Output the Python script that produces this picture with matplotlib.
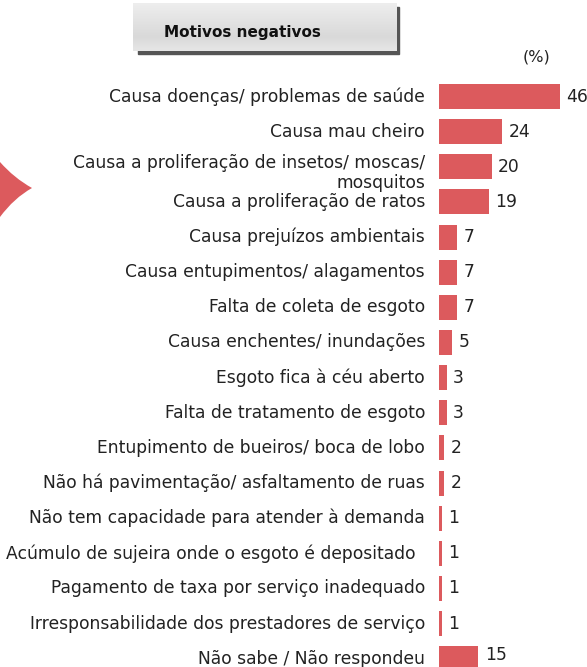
import numpy as np
import matplotlib
matplotlib.use('Agg')
import matplotlib.pyplot as plt
from matplotlib.patches import Rectangle, PathPatch
from matplotlib.path import Path
from matplotlib.colors import LinearSegmentedColormap

labels = [
    'Causa doenças/ problemas de saúde',
    'Causa mau cheiro',
    'Causa a proliferação de insetos/ moscas/\nmosquitos',
    'Causa a proliferação de ratos',
    'Causa prejuízos ambientais',
    'Causa entupimentos/ alagamentos',
    'Falta de coleta de esgoto',
    'Causa enchentes/ inundações',
    'Esgoto fica à céu aberto',
    'Falta de tratamento de esgoto',
    'Entupimento de bueiros/ boca de lobo',
    'Não há pavimentação/ asfaltamento de ruas',
    'Não tem capacidade para atender à demanda',
    'Acúmulo de sujeira onde o esgoto é depositado',
    'Pagamento de taxa por serviço inadequado',
    'Irresponsabilidade dos prestadores de serviço',
    'Não sabe / Não respondeu',
]
values = [46, 24, 20, 19, 7, 7, 7, 5, 3, 3, 2, 2, 1, 1, 1, 1, 15]

red = '#dc5a5d'
txt = '#222222'
W, H = 587, 667
plt.rcParams['font.family'] = ['DejaVu Sans']

fig = plt.figure(figsize=(W / 100, H / 100), dpi=100)

# bar axes
ax = fig.add_axes([439 / W, 0, 148 / W, 1])
ax.set_xlim(0, 148 / 2.63)
ax.set_ylim((H - 96.5) / 35.14, -96.5 / 35.14)
ax.axis('off')

y = np.arange(len(values))
ax.barh(y, values, height=0.71, color=red)
tr = ax.get_yaxis_transform()
for i, (lab, v) in enumerate(zip(labels, values)):
    dx = -14 / 148
    dy = 0
    if lab.startswith('Acúmulo'):
        dx = -24 / 148
    if '\n' in lab:
        dy = 0.18
    ax.text(dx, i + dy, lab, transform=tr, ha='right', va='center', fontsize=12.3,
            color=txt, linespacing=1.1, clip_on=False)
    dv = 2.5 if i == len(values) - 1 else 0
    ax.annotate(str(v), (v, i), xytext=(4.5, dv), textcoords='offset points',
                ha='left', va='center', fontsize=12.3, color=txt,
                annotation_clip=False)

fig.text(537 / W, 1 - 57 / H, '(%)', ha='center', va='center',
         fontsize=11.5, color=txt)

# title box with shadow
fig.patches.append(Rectangle((138 / W, 1 - 54 / H), (399 - 138) / W, 47 / H,
                             transform=fig.transFigure, color='#555555',
                             zorder=0))
tax = fig.add_axes([133 / W, 1 - 51 / H, (396 - 133) / W, 48 / H], zorder=1)
cmap = LinearSegmentedColormap.from_list(
    'g', [(0, '#eeeeee'), (0.7, '#d9d9d9'), (1, '#e6e6e6')])
tax.imshow(np.linspace(0, 1, 100).reshape(-1, 1), aspect='auto', cmap=cmap,
           extent=(0, 1, 0, 1), origin='upper')
tax.axis('off')
fig.text(164 / W, 1 - 33 / H, 'Motivos negativos', ha='left', va='center',
         fontsize=11, fontweight='bold', color='#111111', zorder=3)

# red arrow on the left edge
verts = [(0, 162), (14, 178), (32, 188), (14, 198), (0, 217), (0, 162)]
verts = [(x / W, 1 - yy / H) for x, yy in verts]
codes = [Path.MOVETO, Path.CURVE3, Path.CURVE3, Path.CURVE3, Path.CURVE3,
         Path.CLOSEPOLY]
fig.patches.append(PathPatch(Path(verts, codes), transform=fig.transFigure,
                             facecolor=red, edgecolor='none'))

fig.savefig('out.png', dpi=100)
